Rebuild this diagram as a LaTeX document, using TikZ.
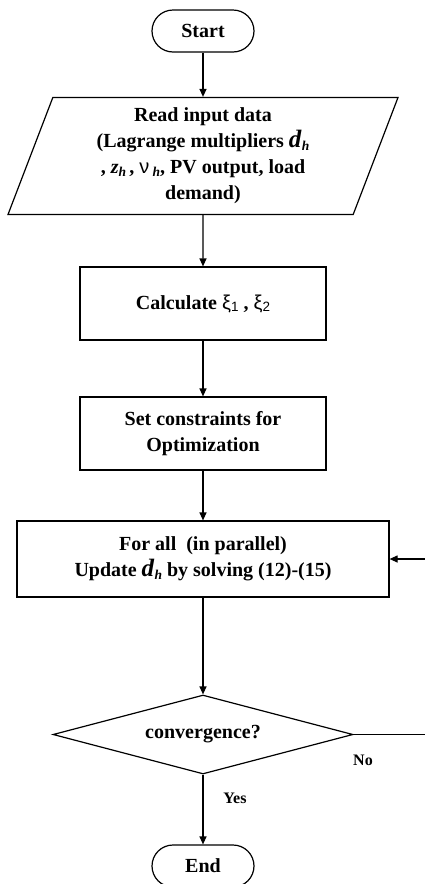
\documentclass[tikz,border=0pt]{standalone}
\usepackage{fontspec}
\setmainfont{Liberation Serif}
\newfontfamily\symsans{Liberation Sans}
\usetikzlibrary{shapes.geometric,arrows.meta}
\newcommand\myDh{{\fontsize{25}{25}\selectfont\textit{d}}\raisebox{-3pt}{\fontsize{13.5}{13.5}\selectfont\textit{h}}}
\newcommand\myZh{\textit{z}\raisebox{-3pt}{\fontsize{13.5}{13.5}\selectfont\textit{h}}}
\newcommand\myNuh{{\symsans\mdseries ν}\,\raisebox{-3pt}{\fontsize{13.5}{13.5}\selectfont\textit{h}}}
\newcommand\myXi[1]{{\symsans\mdseries ξ\raisebox{-2pt}{\fontsize{13.5}{13.5}\selectfont #1}}}
\begin{document}
\begin{tikzpicture}[x=1pt,y=-1pt,line width=1.2pt,
  every node/.style={font=\fontsize{20}{26}\selectfont\bfseries, inner sep=0pt},
  term/.style={draw, rounded corners=21pt, minimum width=102pt, minimum height=42pt},
  procbox/.style={draw, minimum width=246pt, minimum height=73pt, align=center},
  iobox/.style={draw, trapezium, trapezium left angle=65, trapezium right angle=115,
    trapezium stretches body, minimum width=390pt, minimum height=117pt, align=center},
  decision/.style={draw, diamond, aspect=3.8, minimum width=300pt, minimum height=79pt},
  lbl/.style={font=\fontsize{16}{16}\selectfont\bfseries},
  arr/.style={-{Triangle[length=8pt,width=7pt]}}]
\useasboundingbox (0,0) rectangle (424,884);

\node[term] (start) at (203,31) {Start};
\node[iobox] (read) at (203,156) {Read input data\\(Lagrange multipliers \myDh\\, \myZh\,, \myNuh, PV output, load\\demand)};
\node[procbox] (calc) at (203,303.5) {Calculate \myXi{1} , \myXi{2}};
\node[procbox] (cons) at (203,433.5) {Set constraints for\\Optimization};
\node[draw, minimum width=372pt, minimum height=76pt, align=center] (upd) at (203,559) {For all~~(in parallel)\\Update \myDh\ by solving (12)-(15)};
\node[decision] (conv) at (203,734.5) {convergence?};
\node[term] (stop) at (203,866) {End};

\node[lbl] (yes) at (235,798) {Yes};
\node[lbl] (no) at (363,760) {No};

\coordinate (c1) at (426,734.5);
\coordinate (c2) at (426,559);

\draw[arr] (start) -- (read);
\draw[arr] (read) -- (calc);
\draw[arr] (calc) -- (cons);
\draw[arr] (cons) -- (upd);
\draw[arr] (upd) -- (conv);
\draw[arr] (conv) -- (stop);
\draw[arr] (conv.east) -- (c1) -- (c2) -- (upd.east);
\end{tikzpicture}
\end{document}
